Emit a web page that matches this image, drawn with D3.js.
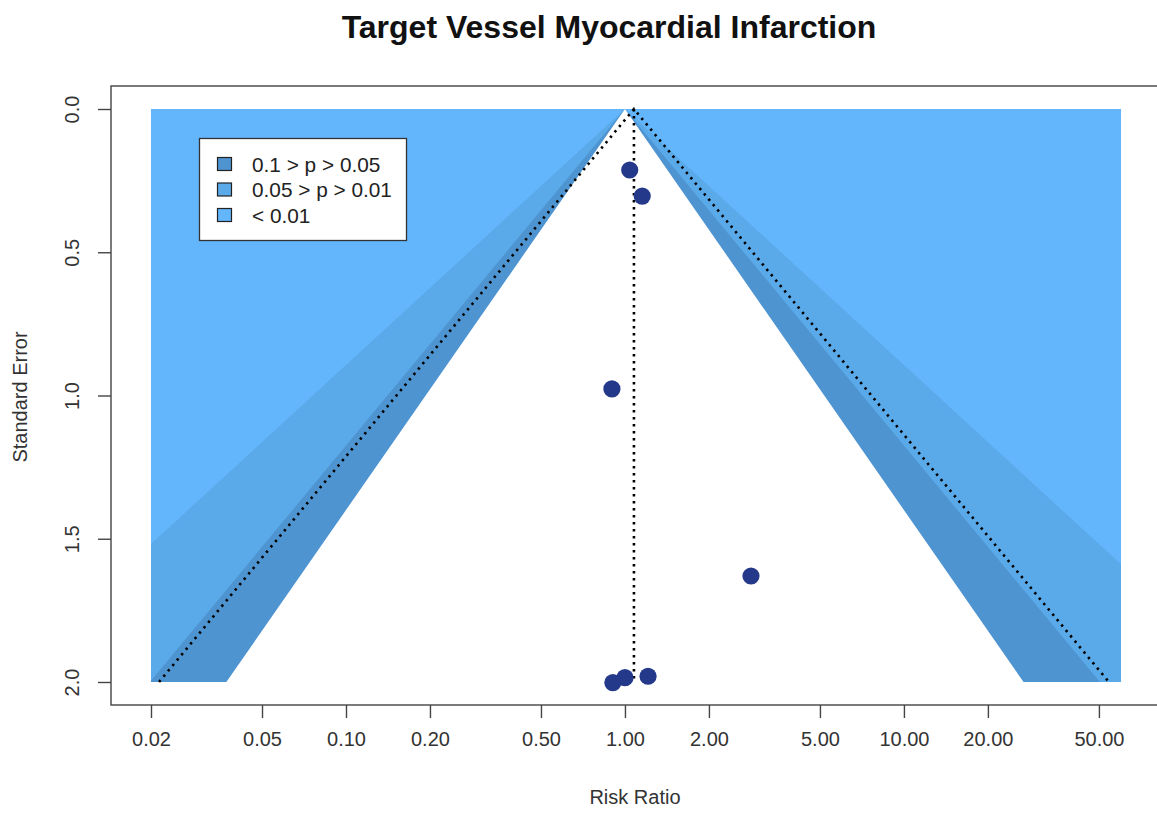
<!DOCTYPE html>
<html>
<head>
<meta charset="utf-8">
<script src="https://cdn.jsdelivr.net/npm/d3@7"></script>
<style>
  html, body { margin: 0; padding: 0; background: #fff; overflow: hidden; }
  text { font-family: "Liberation Sans", Arial, Helvetica, sans-serif; }
</style>
</head>
<body>
<svg id="chart" width="1157" height="814"></svg>
<script>
// ---- data ----
const studyRR = [1.04, 1.153, 0.898, 2.83, 0.905, 1.0, 1.21];
const studySE = [0.213, 0.304, 0.977, 1.630, 2.002, 1.985, 1.980];
const pooledRR = 1.077;
const contourZ = [1.645, 1.96, 2.576];          // 90%, 95%, 99%
const contourLabels = ["0.1 > p > 0.05", "0.05 > p > 0.01", "< 0.01"];
const contourColors = ["#4e94d0", "#5aa9e9", "#63b5fc"];
const xTicks = [0.02, 0.05, 0.10, 0.20, 0.50, 1.00, 2.00, 5.00, 10.00, 20.00, 50.00];
const yTicks = [0.0, 0.5, 1.0, 1.5, 2.0];
const xLimits = [0.02, 60];
const seMax = 2.0;

const svg = d3.select("#chart");
const x = d3.scaleLog().domain(xLimits).range([151, 1121]);
const y = d3.scaleLinear().domain([0, seMax]).range([109, 682]);
const box = { left: 111, right: 1160, top: 86, bottom: 705 };
const lx = v => x(Math.exp(v));   // position from log value

// clip to shaded region
svg.append("defs").append("clipPath").attr("id", "shadeClip")
  .append("rect")
  .attr("x", x(xLimits[0])).attr("y", y(0))
  .attr("width", x(xLimits[1]) - x(xLimits[0]))
  .attr("height", y(seMax) - y(0));

const g = svg.append("g").attr("clip-path", "url(#shadeClip)");

// outer region (< 0.01)
g.append("rect")
  .attr("x", x(xLimits[0])).attr("y", y(0))
  .attr("width", x(xLimits[1]) - x(xLimits[0]))
  .attr("height", y(seMax) - y(0))
  .attr("fill", contourColors[2]);

function funnelPoly(center, z) {
  return [
    [lx(center), y(0)],
    [lx(center - z * seMax), y(seMax)],
    [lx(center + z * seMax), y(seMax)]
  ];
}
const line = d3.line();
// 99% polygon -> 0.05>p>0.01 colour, 95% -> 0.1>p>0.05, 90% -> white
const fills = [contourColors[1], contourColors[0], "#ffffff"];
[contourZ[2], contourZ[1], contourZ[0]].forEach((z, i) => {
  g.append("path")
    .attr("d", line(funnelPoly(0, z)) + "Z")
    .attr("fill", fills[i]);
});

// dotted pooled funnel lines
const c = Math.log(pooledRR);
const dotted = { stroke: "#000", "stroke-width": 2.6, "stroke-dasharray": "2.4 4.6", fill: "none" };
function dline(pts) {
  const p = svg.append("path").attr("d", line(pts));
  Object.entries(dotted).forEach(([k, v]) => p.attr(k, v));
}
dline([[lx(c), y(0)], [lx(c), y(seMax)]]);
dline([[lx(c - 1.96 * seMax), y(seMax)], [lx(c), y(0)], [lx(c + 1.96 * seMax), y(seMax)]]);

// points
svg.append("g").selectAll("circle")
  .data(studyRR.map((r, i) => ({ r, se: studySE[i] })))
  .join("circle")
  .attr("cx", d => x(d.r)).attr("cy", d => y(d.se))
  .attr("r", 8.6).attr("fill", "#25398a");

// box
svg.append("rect")
  .attr("x", box.left).attr("y", box.top)
  .attr("width", box.right - box.left).attr("height", box.bottom - box.top)
  .attr("fill", "none").attr("stroke", "#444").attr("stroke-width", 1.4);

// x axis
const xAxis = d3.axisBottom(x).tickValues(xTicks)
  .tickFormat(d3.format(".2f")).tickSize(13).tickPadding(14);
const xa = svg.append("g").attr("transform", `translate(0,${box.bottom})`).call(xAxis);
xa.select(".domain").remove();
xa.selectAll("line").attr("stroke", "#444").attr("stroke-width", 1.4);
xa.selectAll("text").attr("font-size", 20).attr("fill", "#333")
  .attr("font-family", "Liberation Sans, Arial, sans-serif");

// y axis
const yAxis = d3.axisLeft(y).tickValues(yTicks)
  .tickFormat(d3.format(".1f")).tickSize(13).tickPadding(0);
const ya = svg.append("g").attr("transform", `translate(${box.left},0)`).call(yAxis);
ya.select(".domain").remove();
ya.selectAll("line").attr("stroke", "#444").attr("stroke-width", 1.4);
ya.selectAll("text")
  .attr("x", 0).attr("dy", null)
  .attr("transform", d => `translate(${72 - box.left},0) rotate(-90)`)
  .attr("text-anchor", "middle").attr("dominant-baseline", "central")
  .attr("font-size", 20).attr("fill", "#333")
  .attr("font-family", "Liberation Sans, Arial, sans-serif");

// axis titles
svg.append("text").attr("x", 635).attr("y", 804)
  .attr("text-anchor", "middle").attr("font-size", 20).attr("fill", "#333")
  .text("Risk Ratio");
svg.append("text")
  .attr("transform", "translate(20,397) rotate(-90)")
  .attr("text-anchor", "middle").attr("dominant-baseline", "central")
  .attr("font-size", 20).attr("fill", "#333")
  .text("Standard Error");

// title
svg.append("text").attr("x", 609).attr("y", 38)
  .attr("text-anchor", "middle").attr("font-size", 32).attr("font-weight", "bold")
  .attr("fill", "#111")
  .text("Target Vessel Myocardial Infarction");

// legend
const lg = svg.append("g");
lg.append("rect").attr("x", 199.5).attr("y", 138.5).attr("width", 207).attr("height", 102)
  .attr("fill", "#fff").attr("stroke", "#333").attr("stroke-width", 1.3);
contourLabels.forEach((lab, i) => {
  const yy = 164 + i * 25.5;
  lg.append("rect").attr("x", 217.5).attr("y", yy - 6.5).attr("width", 14).attr("height", 13)
    .attr("fill", contourColors[i]).attr("stroke", "#222").attr("stroke-width", 1.2);
  lg.append("text").attr("x", 252).attr("y", yy).attr("dominant-baseline", "central")
    .attr("font-size", 20.8).attr("fill", "#222").text(lab);
});
</script>
</body>
</html>
